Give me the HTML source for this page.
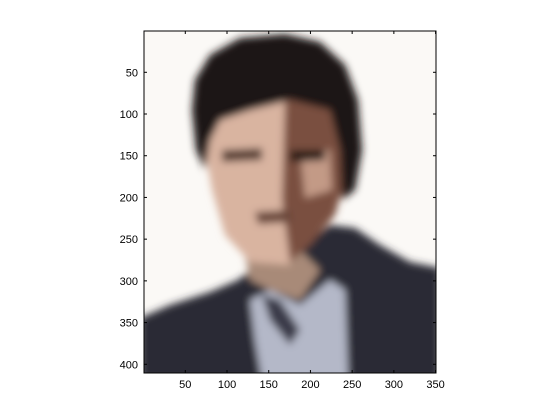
<!DOCTYPE html>
<html><head><meta charset="utf-8">
<style>
body{margin:0;background:#fff;}
svg{display:block;font-family:"Liberation Sans",sans-serif;font-size:11px;}
</style></head>
<body>
<svg width="560" height="420" viewBox="0 0 560 420">
<defs>
<clipPath id="clip"><rect x="144" y="31" width="292" height="342"/></clipPath>
<filter id="blur" x="-10%" y="-10%" width="120%" height="120%"><feGaussianBlur stdDeviation="4"/></filter>
</defs>
<rect width="560" height="420" fill="#ffffff"/>
<g clip-path="url(#clip)">
<rect x="144" y="31" width="292" height="342" fill="#fbf9f6"/>
<g filter="url(#blur)">
<polygon fill="#2b2a36" points="140,318 170,305 210,292 238,280 262,262 300,250 330,225 355,228 380,245 410,262 440,268 440,380 140,380"/>
<polygon fill="#b4b8c8" points="250,300 270,290 300,305 330,280 345,290 348,380 262,380 255,340"/>
<polygon fill="#3a3a48" points="262,295 280,300 300,330 290,345 270,320"/>
<polygon fill="#a88a78" points="245,255 300,250 320,270 300,300 270,290 250,280"/>
<polygon fill="#d9b4a0" points="210,105 285,100 290,265 250,262 225,235 212,190 205,150"/>
<polygon fill="#7a5040" points="285,100 340,105 345,180 335,215 310,245 290,262 282,200"/>
<polygon fill="#c39a86" points="300,150 330,150 332,190 305,198"/>
<polygon fill="#1c1614" points="195,80 210,55 240,38 285,34 320,42 345,65 358,100 362,150 355,190 342,200 340,150 330,110 290,100 250,110 220,120 210,140 205,170 196,150 192,110"/>
<polygon fill="#5a4034" points="222,150 262,148 262,160 222,162"/>
<polygon fill="#2a1a16" points="290,150 325,150 325,160 290,162"/>
<polygon fill="#6a463a" points="255,212 290,210 292,222 258,224"/>
</g>
</g>
<rect x="144" y="31" width="292" height="342" fill="none" stroke="#000" stroke-width="1"/>
<g id="xt"></g>
<g id="yt"></g>
<script>
const xTicks=[50,100,150,200,250,300,350];
const yTicks=[50,100,150,200,250,300,350,400];
const s=292/350;
function X(v){return 144+(v-0.5)*s;}
function Y(v){return 31+(v-0.5)*s;}
const ns="http://www.w3.org/2000/svg";
const xt=document.getElementById('xt'),yt=document.getElementById('yt');
xTicks.forEach(v=>{
 const x=X(v);
 const l1=document.createElementNS(ns,'line');
 
 
 l1.setAttribute('x1',x);l1.setAttribute('x2',x);l1.setAttribute('y1',373);l1.setAttribute('y2',370);l1.setAttribute('stroke','#000');xt.appendChild(l1);
 const l2=document.createElementNS(ns,'line');
 
 
 l2.setAttribute('x1',x);l2.setAttribute('x2',x);l2.setAttribute('y1',31);l2.setAttribute('y2',34);l2.setAttribute('stroke','#000');xt.appendChild(l2);
 const t=document.createElementNS(ns,'text');
 
 
 t.setAttribute('x',x);t.setAttribute('y',388);t.setAttribute('text-anchor','middle');t.textContent=v;xt.appendChild(t);
});
yTicks.forEach(v=>{
 const y=Y(v);
 const l1=document.createElementNS(ns,'line');
 
 
 l1.setAttribute('x1',144);l1.setAttribute('x2',147);l1.setAttribute('y1',y);l1.setAttribute('y2',y);l1.setAttribute('stroke','#000');yt.appendChild(l1);
 const l2=document.createElementNS(ns,'line');
 
 
 l2.setAttribute('x1',436);l2.setAttribute('x2',433);l2.setAttribute('y1',y);l2.setAttribute('y2',y);l2.setAttribute('stroke','#000');yt.appendChild(l2);
 const t=document.createElementNS(ns,'text');
 
 
 t.setAttribute('x',138);t.setAttribute('y',y+4);t.setAttribute('text-anchor','end');t.textContent=v;yt.appendChild(t);
});
</script>
</svg>
</body></html>
